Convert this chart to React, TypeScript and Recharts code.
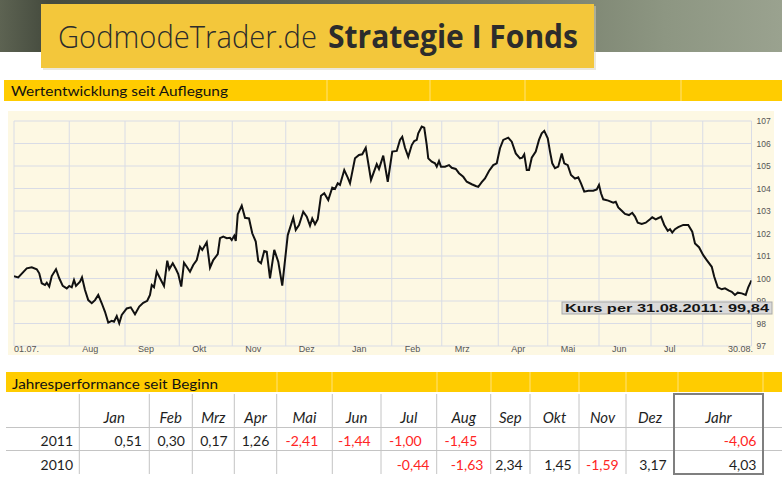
import React from 'react';
import { LineChart, Line, XAxis, YAxis, CartesianGrid } from 'recharts';

// Kursverlauf: [Handelstag-Index seit 01.07.2010, Kurs]
const kursPunkte: [number, number][] = [
  [0, 100.1], [1.7, 100.05], [5.1, 100.45], [7.1, 100.5], [9.1, 100.41], [10.1, 100.23], [11.1, 99.79], [12.4, 99.71],
  [13.1, 99.81], [14.1, 99.64], [15.1, 100.11], [16.8, 100.41], [18.1, 100.01], [19.5, 99.67], [21.1, 99.56], [22.1, 99.67],
  [23.1, 99.61], [24, 99.93], [24.8, 99.67], [26.4, 99.86], [27.2, 100.05], [28.4, 99.49], [29.7, 99.04], [31.1, 98.9],
  [32.4, 99.04], [33.7, 99.27], [35.1, 98.9], [36.4, 98.52], [37.7, 98.04], [39.1, 98.12], [40, 98.08], [41.1, 98.33],
  [42.1, 98.01], [43.1, 98.38], [45.1, 98.67], [46.7, 98.72], [48.4, 98.41], [50.1, 98.75], [51.7, 98.92], [53.3, 99.01],
  [54.4, 99.27], [55.1, 99.71], [56, 99.61], [57.1, 100.3], [58.4, 100.01], [60, 99.67], [61.3, 100.79], [62.1, 100.41],
  [63.5, 100.68], [64.8, 100.41], [65.7, 100.2], [66.9, 99.64], [68, 100.7], [69.1, 100.52], [70.4, 100.3], [71.7, 100.6],
  [73.1, 100.82], [74.4, 101.41], [75.3, 101.27], [77.1, 101.61], [78.4, 100.48], [79.7, 100.82], [81.5, 101.08], [82.4, 101.79],
  [83.7, 101.86], [85.1, 101.79], [86.4, 101.81], [87.1, 101.71], [88.1, 101.9], [88.7, 101.67], [89.5, 102.85], [91.1, 103.24],
  [92.4, 102.7], [94, 102.67], [95.3, 102.01], [96.7, 101.64], [97.7, 100.78], [98.8, 100.68], [100.1, 101.22], [101.1, 101.19],
  [102.4, 100.01], [104.1, 101.27], [105.7, 100.75], [107.3, 99.68], [109.5, 101.93], [111.7, 102.7], [112.7, 102.16], [114, 102.38],
  [115.7, 102.97], [117.1, 102.75], [118.4, 102.35], [119.3, 102.67], [120.4, 102.41], [121.5, 102.64], [122.8, 103.68], [124.1, 103.79],
  [125.7, 103.49], [127.3, 104.04], [128.4, 103.98], [129.5, 104.23], [130.4, 104.16], [132.1, 104.82], [133.5, 104.48], [134.4, 104.23],
  [136.4, 105.34], [138, 105.49], [139.3, 105.52], [140.7, 105.81], [142.8, 104.38], [145.1, 105.08], [146, 104.87], [147.7, 105.46],
  [149.5, 104.3], [151.3, 105.64], [153.1, 105.67], [154.4, 106.16], [155.3, 106.3], [156.4, 105.81], [157.7, 105.41], [159.1, 105.93],
  [160.1, 106.11], [161.1, 106.16], [161.7, 106.45], [163.1, 106.75], [164.1, 106.7], [165.1, 105.93], [165.7, 105.34], [167.1, 105.19],
  [168.4, 105.12], [169.1, 104.97], [170, 105.22], [170.8, 104.97], [172.4, 104.97], [174, 105.04], [175.1, 104.92], [176.7, 104.87],
  [178, 104.68], [179.7, 104.52], [181.1, 104.3], [183.1, 104.19], [184.7, 104.11], [185.7, 104.07], [187.1, 104.28], [188.4, 104.45],
  [190, 104.78], [191.7, 105.04], [193.1, 105.12], [194.4, 105.79], [195.7, 106.16], [197.7, 106.26], [199.1, 106.08], [200.7, 105.56],
  [202.4, 105.34], [203.3, 105.37], [204.1, 105.52], [205.1, 104.82], [206, 104.82], [207.1, 105.37], [208.7, 105.64], [210, 106.16],
  [211.1, 106.45], [212.1, 106.56], [213.5, 106.23], [214.4, 105.64], [215.3, 105.12], [216.4, 104.9], [217.7, 104.97], [219.1, 105.56],
  [220.1, 105.12], [221.5, 105.04], [222.8, 104.6], [224.4, 104.44], [225.7, 104.5], [226.8, 104.23], [228.1, 103.86], [229.7, 103.9],
  [231.7, 103.9], [233.1, 103.96], [234, 104.16], [234.8, 103.79], [235.7, 103.52], [237.7, 103.46], [239.7, 103.37], [240.7, 103.41],
  [241.7, 103.16], [243.1, 103.01], [244.4, 102.87], [246, 102.82], [247.3, 102.92], [248.4, 102.75], [249.5, 102.48], [251.1, 102.42],
  [252.7, 102.48], [254.4, 102.63], [255.3, 102.72], [256.7, 102.63], [258, 102.7], [258.8, 102.75], [260.1, 102.38], [261.5, 102.12],
  [262.4, 102.19], [263.3, 102.04], [264.4, 102.19], [265.7, 102.28], [267.7, 102.38], [269.7, 102.38], [271.3, 102.08], [272.4, 101.56],
  [274, 101.39], [275.7, 101.04], [277.1, 100.82], [279.1, 100.52], [280.1, 100.08], [281.5, 99.61], [283.1, 99.52], [284.4, 99.56],
  [286, 99.46], [287.1, 99.41], [288.4, 99.27], [289.5, 99.37], [291.1, 99.34], [292.7, 99.27], [293.7, 99.61], [295, 99.92],
];

const monthGrid = [0, 22.1, 44.4, 66.1, 87.3, 108.7, 130, 151.1, 171.1, 193.7, 213.5, 234, 254.8, 275.5, 295];
const monthLabels = ['01.07.', 'Aug', 'Sep', 'Okt', 'Nov', 'Dez', 'Jan', 'Feb', 'Mrz', 'Apr', 'Mai', 'Jun', 'Jul', '', '30.08.'];
const yTicks = [97, 98, 99, 100, 101, 102, 103, 104, 105, 106, 107];
const kursDatum = '31.08.2011';
const schlusskurs = '99,84';

const tableMonths = ['Jan', 'Feb', 'Mrz', 'Apr', 'Mai', 'Jun', 'Jul', 'Aug', 'Sep', 'Okt', 'Nov', 'Dez'];
const perf2011: (number | null)[] = [0.51, 0.30, 0.17, 1.26, -2.41, -1.44, -1.00, -1.45, null, null, null, null];
const perf2010: (number | null)[] = [null, null, null, null, null, null, -0.44, -1.63, 2.34, 1.45, -1.59, 3.17];
const jahr2011 = -4.06;
const jahr2010 = 4.03;

// layout
const colEdges = [79.3, 149.3, 192.3, 234.3, 276.7, 332.3, 381, 436.7, 490.7, 530, 579, 626, 674];
const pad2011 = [7.3, 7.3, 6.6, 7.4, 14, 10.3, 15, 13.4, 7, 7, 7, 7];
const bar1Lines = [327, 430, 525, 681];
const bar2Lines = [277, 332, 437, 491, 530, 579, 626, 678, 763];

const chartData = kursPunkte.map(([t, k]) => ({ t, k }));
const fmt = (v: number) => v.toFixed(2).replace('.', ',');
const TXT = '#1e1e1e';
const RED = '#ff2424';
const CAL = 'Lato, "Open Sans", sans-serif';
const ARIAL = '"Liberation Sans", Arial, sans-serif';

const XTick = (props: any) => {
  const { x, y, payload } = props;
  const i = monthGrid.indexOf(payload.value);
  const label = monthLabels[i];
  if (!label) return <g />;
  const last = i === monthGrid.length - 1;
  const dx = i === 0 ? 0 : last ? 1.5 : 13;
  return (
    <text x={x + dx} y={y + 6} textAnchor={last ? 'end' : 'start'} fontSize={9} fill="#555" fontFamily={ARIAL}>
      {label}
    </text>
  );
};

const YTick = (props: any) => {
  const { x, y, payload } = props;
  return (
    <text x={x} y={y + 3} textAnchor="start" fontSize={8.5} fill="#555" fontFamily={ARIAL}>
      {payload.value}
    </text>
  );
};

export default function App() {
  const rowY2011 = 446;
  const rowY2010 = 469.5;
  return (
    <div style={{ position: 'absolute', left: 0, top: 0, width: 782, height: 488, background: '#fff', overflow: 'hidden' }}>
      <svg width={782} height={488} style={{ position: 'absolute', left: 0, top: 0 }}>
        <defs>
          <linearGradient id="ban" x1="0" x2="1" y1="0" y2="0">
            <stop offset="0" stopColor="#5d6352" />
            <stop offset="0.06" stopColor="#454b3e" />
            <stop offset="0.35" stopColor="#596050" />
            <stop offset="0.65" stopColor="#737b68" />
            <stop offset="0.85" stopColor="#8d9682" />
            <stop offset="1" stopColor="#9aa28f" />
          </linearGradient>
        </defs>
        <rect x={0} y={0} width={782} height={52} fill="url(#ban)" />
        <rect x={43} y={6} width={553} height={64} fill="#d8d2b8" opacity={0.5} />
        <rect x={41} y={4} width={553} height={64} fill="#f3c73b" />
        <text x={58} y={48} fontSize={32} fontWeight={300} fill="#2c2c2c" fontFamily='"Open Sans", sans-serif'
          textLength={259} lengthAdjust="spacingAndGlyphs">GodmodeTrader.de</text>
        <text x={328} y={48} fontSize={32} fontWeight={700} fill="#2c2c2c" fontFamily='"Open Sans", sans-serif'
          textLength={250} lengthAdjust="spacingAndGlyphs">Strategie I Fonds</text>

        {/* bar 1 */}
        <rect x={4} y={80} width={778} height={21} fill="#ffcc00" />
        {bar1Lines.map((lx) => (
          <line key={lx} x1={lx} x2={lx} y1={80} y2={101} stroke="#ffe27a" strokeWidth={1} />
        ))}
        <text x={11} y={96} fontSize={13.5} fill="#111" fontFamily={CAL} textLength={217} lengthAdjust="spacingAndGlyphs">
          Wertentwicklung seit Auflegung
        </text>

        {/* chart background */}
        <rect x={8} y={111} width={766} height={244} fill="#fdf8e3" />

        {/* bar 2 */}
        <rect x={6} y={372} width={776} height={20} fill="#ffcc00" />
        {bar2Lines.map((lx) => (
          <line key={lx} x1={lx} x2={lx} y1={372} y2={392} stroke="#ffe27a" strokeWidth={1} />
        ))}
        <text x={12} y={388.5} fontSize={13.5} fill="#111" fontFamily={CAL} textLength={206} lengthAdjust="spacingAndGlyphs">
          Jahresperformance seit Beginn
        </text>

        {/* table grid */}
        {colEdges.map((cx) => (
          <line key={cx} x1={cx} x2={cx} y1={394} y2={474} stroke="#c4c4c4" strokeWidth={1} />
        ))}
        <line x1={6} x2={782} y1={427.5} y2={427.5} stroke="#c4c4c4" strokeWidth={1} />
        <line x1={6} x2={782} y1={450.5} y2={450.5} stroke="#c4c4c4" strokeWidth={1} />
        <rect x={674} y={394} width={89} height={80} fill="none" stroke="#7f7f7f" strokeWidth={2} />

        {/* header */}
        {tableMonths.map((m, i) => (
          <text key={m} x={(colEdges[i] + colEdges[i + 1]) / 2} y={422.5} textAnchor="middle" fontSize={15}
            fontStyle="italic" fill={TXT} fontFamily={CAL}>{m}</text>
        ))}
        <text x={718.5} y={422.5} textAnchor="middle" fontSize={15} fontStyle="italic" fill={TXT} fontFamily={CAL}>Jahr</text>

        <text x={73} y={rowY2011} textAnchor="end" fontSize={14} fill={TXT} fontFamily={CAL}>2011</text>
        <text x={73} y={rowY2010} textAnchor="end" fontSize={14} fill={TXT} fontFamily={CAL}>2010</text>

        {perf2011.map((v, i) =>
          v === null ? null : (
            <text key={'a' + i} x={colEdges[i + 1] - pad2011[i]} y={rowY2011} textAnchor="end" fontSize={14}
              fill={v < 0 ? RED : TXT} fontFamily={CAL}>{fmt(v)}</text>
          ))}
        {perf2010.map((v, i) =>
          v === null ? null : (
            <text key={'b' + i} x={colEdges[i + 1] - 7.3} y={rowY2010} textAnchor="end" fontSize={14}
              fill={v < 0 ? RED : TXT} fontFamily={CAL}>{fmt(v)}</text>
          ))}
        <text x={756.5} y={rowY2011} textAnchor="end" fontSize={14} fill={jahr2011 < 0 ? RED : TXT} fontFamily={CAL}>{fmt(jahr2011)}</text>
        <text x={756.5} y={rowY2010} textAnchor="end" fontSize={14} fill={jahr2010 < 0 ? RED : TXT} fontFamily={CAL}>{fmt(jahr2010)}</text>
      </svg>

      <div style={{ position: 'absolute', left: 8, top: 111 }}>
        <LineChart width={766} height={244} data={chartData} margin={{ top: 10, right: 0, bottom: 0, left: 6 }}>
          <CartesianGrid stroke="#d9dce6" strokeWidth={1} />
          <XAxis dataKey="t" type="number" domain={[0, 295]} ticks={monthGrid} interval={0} height={9}
            axisLine={false} tickLine={false} tickSize={0} tickMargin={0} tick={<XTick />} allowDataOverflow />
          <YAxis orientation="right" type="number" domain={[97, 107]} ticks={yTicks} interval={0} width={22.5}
            axisLine={false} tickLine={false} tickSize={0} tickMargin={5} tick={<YTick />} allowDataOverflow />
          <Line type="linear" dataKey="k" stroke="#111" strokeWidth={2} dot={false} isAnimationActive={false} />
        </LineChart>
      </div>

      <svg width={782} height={488} style={{ position: 'absolute', left: 0, top: 0, pointerEvents: 'none' }}>
        <rect x={562} y={302} width={210} height={12} fill="#dadada" stroke="#a9a9a9" strokeWidth={1} />
        <text x={565} y={312} fontSize={11} fontWeight={700} fill="#151515" fontFamily={ARIAL}
          textLength={204} lengthAdjust="spacingAndGlyphs">{`Kurs per ${kursDatum}: ${schlusskurs}`}</text>
      </svg>
    </div>
  );
}
